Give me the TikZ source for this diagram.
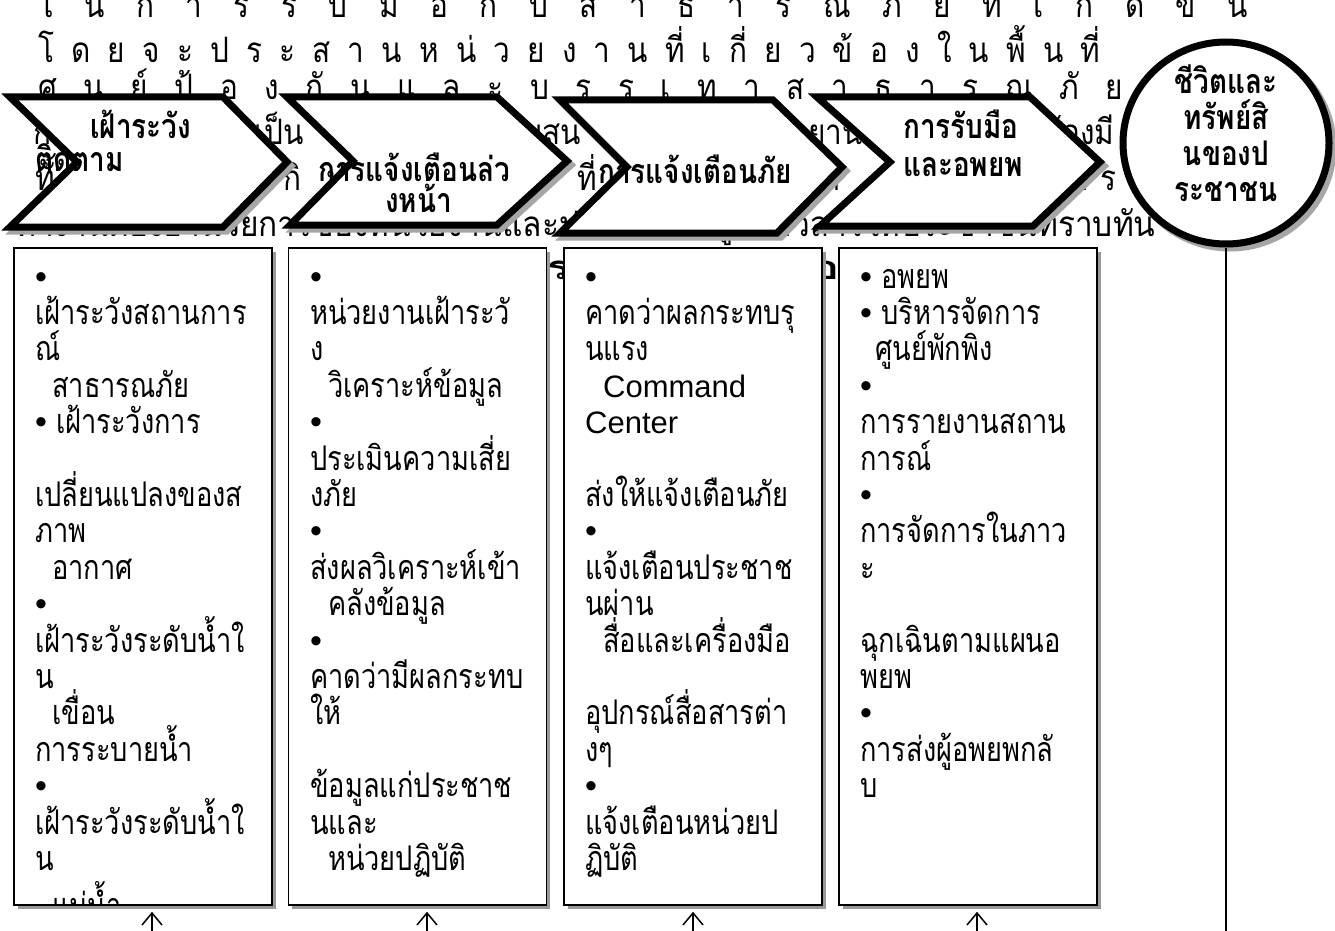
\documentclass[tikz,border=0pt]{standalone}
\usepackage{fontspec}
\usepackage{graphicx}
\setmainfont{Liberation Sans}
\newfontfamily\latin{Liberation Sans}
\newfontfamily\thbox[Script=Thai,FakeStretch=0.8]{Loma}
\newfontfamily\thbg[Script=Thai,FakeStretch=0.85]{Loma}
\newfontfamily\thbold[Script=Thai,FakeStretch=0.82]{Loma}
\usetikzlibrary{arrows.meta,shapes.geometric,shadows}
\newcommand\bul{{\latin\char"2022}}
\begin{document}
\begin{tikzpicture}[x=1pt,y=-1pt,
  chev/.style={fill=white,draw=black,line width=7pt,line join=miter},
  chevsh/.style={fill=black!35,draw=black!35,line width=7pt,line join=miter},
  boxst/.style={draw=black,line width=1.6pt,fill=white,minimum width=258pt,minimum height=657pt,inner sep=0pt,
     drop shadow={shadow xshift=3.5pt,shadow yshift=-3.5pt,fill=black!40,opacity=1}},
  bg/.style={inner sep=0pt,anchor=base west,font=\thbg\fontsize{35}{35}\selectfont},
  bgb/.style={inner sep=0pt,anchor=base west,font=\thbold\bfseries\fontsize{33}{33}\selectfont},
  ctxt/.style={inner sep=0pt,anchor=base west,font=\thbold\bfseries\fontsize{34}{34}\selectfont},
  etxt/.style={inner sep=0pt,anchor=base,font=\thbold\bfseries\fontsize{34}{34}\selectfont},
  btxt/.style={inner sep=0pt,anchor=base west,font=\thbox\fontsize{34}{34}\selectfont},
  arr/.style={draw=black,line width=1.5pt,-{Straight Barb[length=12pt,width=20pt,line width=1.5pt]}}
]
\useasboundingbox (0,0) rectangle (1335,931);
\fill[white] (0,0) rectangle (1335,931);

% background paragraph
\node[bg] (p1) at (38,18) {\makebox[1210pt][s]{ใ น ก า ร รั บ มื อ กั บ ส า ธ า ร ณ ภั ย ที่ เ กิ ด ขึ้ น}};
\node[bg] (p2) at (38,63) {\makebox[1062pt][s]{โ ด ย จ ะ ป ร ะ ส า น ห น่ ว ย ง า น ที่ เ กี่ ย ว ข้ อ ง ใ น พื้ น ที่}};
\node[bg] (p3) at (38,100) {\makebox[1085pt][s]{ศู น ย์ ป้ อ ง กั น แ ล ะ บ ร ร เ ท า ส า ธ า ร ณ ภั ย}};
\node[bg] (p4a) at (33,145) {ก};
\node[bg] (p4b) at (238,145) {รเป็น};
\node[bg] (p4c) at (503,145) {นับสน};
\node[bg] (p4d) at (808,145) {ยาน};
\node[bg] (p4e) at (1043,145) {ต้องมี};
\node[bg] (p5a) at (35,190) {ทั้};
\node[bg] (p5b) at (283,190) {กิ};
\node[bg] (p5c) at (326,190) {ปุ};
\node[bg] (p5d) at (577,190) {ที่};
\node[bg] (p5e) at (820,190) {ท};
\node[bg] (p5f) at (1072,190) {า};
\node[bg] (p5g) at (1100,190) {ร};
\node[bg] (p6) at (15,236) {\resizebox{1140pt}{\height}{ทำงานต้องอำนวยการของหน่วยงานและประสานข้อมูลข่าวสารให้ประชาชนทราบทัน}};
\node[bgb] (p7) at (546,279) {\resizebox{294pt}{\height}{ระบบการรับมือ}};

% chevrons
\draw[chevsh,shift={(4,4)}] (10,97) -- (223,97) -- (287,162) -- (223,227) -- (10,227) -- (77,162) -- cycle;
\draw[chev] (10,97) -- (223,97) -- (287,162) -- (223,227) -- (10,227) -- (77,162) -- cycle;
\draw[chevsh,shift={(4,4)}] (287,97) -- (497,97) -- (567,161) -- (497,225) -- (290,225) -- (353,161) -- cycle;
\draw[chev] (287,97) -- (497,97) -- (567,161) -- (497,225) -- (290,225) -- (353,161) -- cycle;
\draw[chevsh,shift={(4,4)}] (560,100) -- (773,100) -- (842,167) -- (777,233) -- (560,233) -- (627,167) -- cycle;
\draw[chev] (560,100) -- (773,100) -- (842,167) -- (777,233) -- (560,233) -- (627,167) -- cycle;
\draw[chevsh,shift={(4,4)}] (817,97) -- (1030,97) -- (1100,162) -- (1033,226) -- (820,226) -- (890,162) -- cycle;
\draw[chev] (817,97) -- (1030,97) -- (1100,162) -- (1033,226) -- (820,226) -- (890,162) -- cycle;

\node[ctxt] (c1a) at (90,139) {เฝ้าระวัง};
\node[ctxt] (c1b) at (35,171) {ติดตาม};
\node[ctxt] (c2a) at (318,181) {การแจ้งเตือนล่ว};
\node[ctxt] (c2b) at (385,212) {งหน้า};
\node[ctxt] (c3a) at (598,183) {การแจ้งเตือนภัย};
\node[ctxt] (c4a) at (903,139) {การรับมือ};
\node[ctxt] (c4b) at (903,176) {และอพยพ};

% ellipse
\draw[black!35,fill=black!35,line width=7pt] (1230,147) ellipse [x radius=103,y radius=101];
\node[ellipse,draw=black,fill=white,line width=7pt,minimum width=206pt,minimum height=202pt,inner sep=0pt] (ell) at (1226,143) {};
\node[etxt] (e1) at (1226,94) {ชีวิตและ};
\node[etxt] (e2) at (1226,129) {ทรัพย์สิ};
\node[etxt] (e3) at (1226,165) {นของป};
\node[etxt] (e4) at (1226,201) {ระชาชน};
\coordinate (eend) at (1226,945);
\draw[line width=1.4pt] (ell.south) -- (eend);

% boxes
\node[boxst] (box1) at (143,576.5) {};
\node[boxst] (box2) at (417.5,576.5) {};
\node[boxst] (box3) at (693,576.5) {};
\node[boxst] (box4) at (968,576.5) {};

\begin{scope}
\clip (box1.south west) rectangle (box1.north east);
\foreach \t [count=\i from 0] in {\bul,เฝ้าระวังสถานการ,ณ์,\hspace*{17pt}สาธารณภัย,\bul~เฝ้าระวังการ,{},เปลี่ยนแปลงของส,ภาพ,\hspace*{17pt}อากาศ,\bul,เฝ้าระวังระดับน้ำใ,น,\hspace*{17pt}เขื่อน,การระบายน้ำ,\bul,เฝ้าระวังระดับน้ำใ,น}
  \node[btxt] (l1-\i) at (35,{288+36.4*\i}) {\t};
\node[btxt] (l1-17) at (35,917) {\hspace*{17pt}แม่น้ำ};
\end{scope}
\begin{scope}
\clip (box2.south west) rectangle (box2.north east);
\foreach \t [count=\i from 0] in {\bul,หน่วยงานเฝ้าระวั,ง,\hspace*{18pt}วิเคราะห์ข้อมูล,\bul,ประเมินความเสี่ย,งภัย,\bul,ส่งผลวิเคราะห์เข้า,\hspace*{18pt}คลังข้อมูล,\bul,คาดว่ามีผลกระทบ,ให้,{},ข้อมูลแก่ประชาช,นและ,\hspace*{18pt}หน่วยปฏิบัติ}
  \node[btxt] (l2-\i) at (310,{288+36.4*\i}) {\t};
\end{scope}
\begin{scope}
\clip (box3.south west) rectangle (box3.north east);
\foreach \t [count=\i from 0] in {\bul,คาดว่าผลกระทบรุ,นแรง,\hspace*{18pt}{\latin\fontsize{31}{31}\selectfont Command},{\latin\fontsize{31}{31}\selectfont Center},{},ส่งให้แจ้งเตือนภัย,\bul,แจ้งเตือนประชาช,นผ่าน,\hspace*{18pt}สื่อและเครื่องมือ,{},อุปกรณ์สื่อสารต่า,งๆ,\bul,แจ้งเตือนหน่วยป,ฏิบัติ}
  \node[btxt] (l3-\i) at (585,{288+36.4*\i}) {\t};
\end{scope}
\begin{scope}
\clip (box4.south west) rectangle (box4.north east);
\foreach \t [count=\i from 0] in {\bul~อพยพ,\bul~บริหารจัดการ,\hspace*{15pt}ศูนย์พักพิง,\bul,การรายงานสถาน,การณ์,\bul,การจัดการในภาว,ะ,{},ฉุกเฉินตามแผนอ,พยพ,\bul,การส่งผู้อพยพกลั,บ}
  \node[btxt] (l4-\i) at (860,{288+36.4*\i}) {\t};
\end{scope}

% arrows
\coordinate (a1) at (152,945);
\coordinate (a2) at (427,945);
\coordinate (a3) at (693,945);
\coordinate (a4) at (977,945);
\draw[arr,shorten >=6pt] (a1) -- (a1 |- box1.south);
\draw[arr,shorten >=6pt] (a2) -- (a2 |- box2.south);
\draw[arr,shorten >=6pt] (a3) -- (a3 |- box3.south);
\draw[arr,shorten >=6pt] (a4) -- (a4 |- box4.south);
\end{tikzpicture}
\end{document}
